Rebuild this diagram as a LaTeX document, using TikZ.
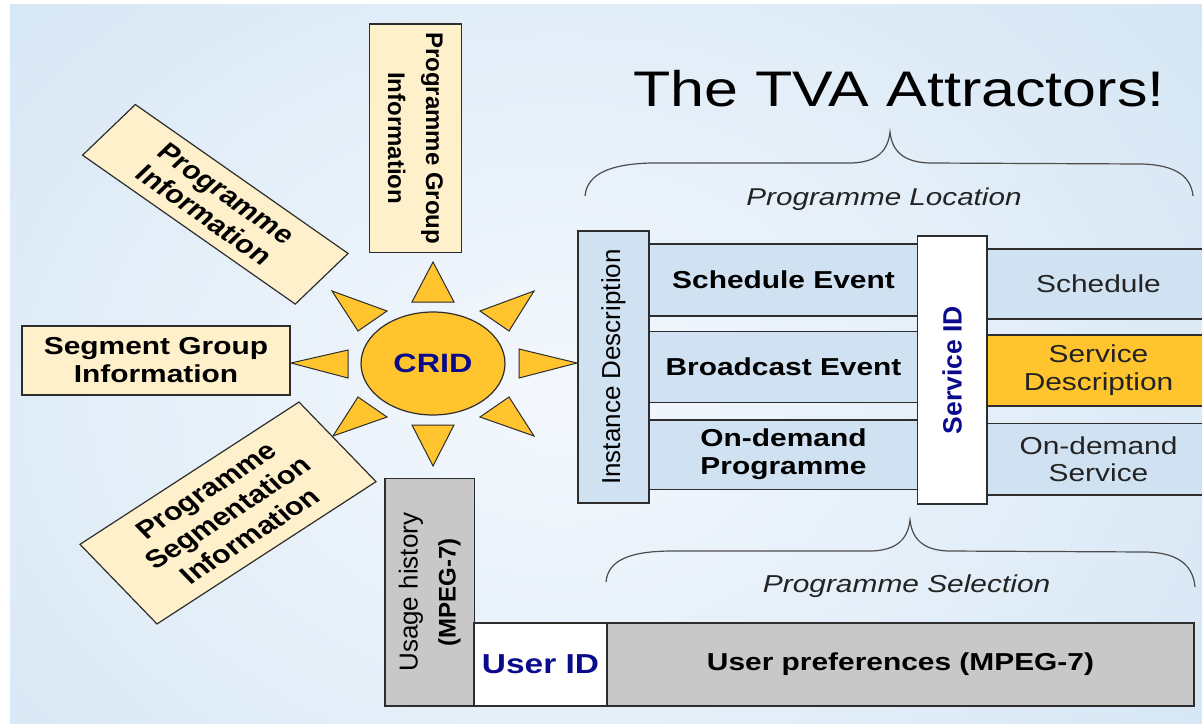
\documentclass[tikz,border=0pt]{standalone}
\usepackage{fontspec}
\setmainfont{Liberation Sans}
\usetikzlibrary{shapes.geometric}
\definecolor{bgblue}{RGB}{210,228,243}
\definecolor{bglight}{RGB}{244,248,253}
\definecolor{cream}{RGB}{255,240,204}
\definecolor{boxblue}{RGB}{208,226,242}
\definecolor{sunorange}{RGB}{255,196,46}
\definecolor{greybox}{RGB}{200,200,200}
\definecolor{navy}{RGB}{10,10,140}
\definecolor{edgecol}{RGB}{45,45,45}
\definecolor{txtgray}{RGB}{35,35,35}
\newcommand{\myfs}[2]{\fontsize{#1}{#2}\selectfont}
\begin{document}
\begin{tikzpicture}[x=1pt,y=-1pt,
  stretch/.style={xscale=1.22},
  edgeline/.style={draw=edgecol, line width=1.2pt},
  cbox/.style={stretch, edgeline, fill=cream, inner sep=0pt, align=center, text=black},
  vcbox/.style={edgeline, fill=cream, inner sep=0pt, align=center, text=black},
  bbox/.style={stretch, edgeline, fill=boxblue, inner sep=0pt, align=center, text=black},
  vbbox/.style={edgeline, fill=boxblue, inner sep=0pt, align=center, text=black},
  ray/.style={fill=sunorange, draw=edgecol, line width=1pt, line join=miter},
  brace/.style={draw=edgecol!85, line width=1.2pt},
  label/.style={stretch, anchor=base, inner sep=0pt, text=txtgray}
]
\useasboundingbox (0,0) rectangle (1202,723);
\fill[white] (0,0) rectangle (1202,723);
\fill[bgblue] (10,4) rectangle (1202,723);
\begin{scope}
  \clip (10,4) rectangle (1202,723);
  \shade[inner color=bglight, outer color=bgblue] (560,400) ellipse [x radius=900, y radius=700];
\end{scope}

% title and labels
\node[label, font=\myfs{50}{55}, text=black] (title) at (899,106.7) {The TVA Attractors!};
\node[label, font=\myfs{24.3}{28}\itshape] (ploc) at (884,205) {Programme Location};
\node[label, font=\myfs{24.5}{28}\itshape] (psel) at (906.6,592.7) {Programme Selection};

% braces
\draw[brace] (585,196) .. controls (587,174) and (610,164) .. (651,163) -- (852,163)
  .. controls (878,162) and (888,150) .. (890,132)
  .. controls (892,150) and (902,162) .. (929,163) -- (1142,164)
  .. controls (1175,165) and (1191,176) .. (1193,196);
\draw[brace] (606,582) .. controls (608,560) and (630,551) .. (673,551) -- (872,551)
  .. controls (898,550) and (908,538) .. (910,520)
  .. controls (912,538) and (922,550) .. (948,551) -- (1147,552)
  .. controls (1178,553) and (1193,565) .. (1195,587);

% sun rays
\fill[ray] (433,262) -- (412,302) -- (454,302) -- cycle;
\fill[ray] (433,466) -- (412,425) -- (454,425) -- cycle;
\fill[ray] (291,363) -- (348,350) -- (348,378) -- cycle;
\fill[ray] (577,363) -- (519,349) -- (519,378) -- cycle;
\fill[ray] (332,291) -- (387,311) -- (358,331) -- cycle;
\fill[ray] (534,291) -- (480,311) -- (509,331) -- cycle;
\fill[ray] (333,436) -- (387,417) -- (358,397) -- cycle;
\fill[ray] (534,436) -- (480,417) -- (509,397) -- cycle;

% CRID
\node[stretch, ellipse, edgeline, fill=sunorange, minimum width=118, minimum height=103, inner sep=0pt,
  font=\myfs{26.5}{30}\bfseries, text=navy] (crid) at (433,363.5) {CRID};

% cream boxes
\node[vcbox, rotate=-90, minimum width=228.3, minimum height=91.9, font=\myfs{24}{38}\bfseries]
  (pgi) at (415.5,138.2) {Programme Group\\Information};
\node[cbox, rotate=-40.5, minimum width=229.3, minimum height=66.6, font=\myfs{25}{28}\bfseries]
  (pi) at (215.3,204.3) {Programme\\Information};
\node[cbox, minimum width=219.7, minimum height=69, font=\myfs{24.5}{28}\bfseries]
  (sgi) at (156,360.5) {Segment Group\\Information};
\node[cbox, rotate=38.4, minimum width=229.1, minimum height=101.6, font=\myfs{25}{29}\bfseries]
  (psi) at (228,513) {Programme\\Segmentation\\Information};

% instance description block
\node[vbbox, rotate=90, minimum width=272, minimum height=71, font=\myfs{26}{30}]
  (inst) at (613.5,367) {Instance Description};
\node[bbox, minimum width=220.5, minimum height=72, font=\myfs{24.5}{28}\bfseries]
  (se) at (783.5,280) {Schedule Event};
\node[bbox, minimum width=220.5, minimum height=71, font=\myfs{24.5}{28}\bfseries]
  (be) at (783.5,367.2) {Broadcast Event};
\node[bbox, minimum width=220.5, minimum height=69.3, font=\myfs{24.5}{28}\bfseries]
  (odp) at (783.5,454.7) {On-demand\\Programme};

% service column
\node[bbox, minimum width=182.8, minimum height=70, font=\myfs{24.5}{28}, text=txtgray]
  (sch) at (1098.5,284) {Schedule};
\node[bbox, fill=sunorange, minimum width=182.8, minimum height=71, font=\myfs{24.5}{28}, text=txtgray]
  (sdesc) at (1098.5,370.5) {Service\\Description};
\node[bbox, minimum width=182.8, minimum height=71.7, font=\myfs{24.5}{27}, text=txtgray]
  (ods) at (1098.5,459.2) {On-demand\\Service};
\node[edgeline, fill=white, rotate=90, minimum width=268, minimum height=69.6, inner sep=0pt,
  font=\myfs{26.5}{30}\bfseries, text=navy] (sid) at (952.2,370) {Service ID};

% user block
\node[edgeline, fill=greybox, rotate=90, minimum width=227.7, minimum height=89.3, inner sep=0pt,
  align=center, font=\myfs{26}{38}] (uh) at (429.7,592.2) {Usage history\\{\bfseries\myfs{24}{38}(MPEG-7)}};
\node[stretch, edgeline, fill=white, minimum width=109, minimum height=83, inner sep=0pt,
  font=\myfs{27.4}{30}\bfseries, text=navy] (uid) at (540.5,664.5) {User ID};
\node[stretch, edgeline, fill=greybox, minimum width=481.1, minimum height=83, inner sep=0pt,
  font=\myfs{24.5}{28}\bfseries] (up) at (900.5,664.5) {User preferences (MPEG-7)};
\end{tikzpicture}
\end{document}
